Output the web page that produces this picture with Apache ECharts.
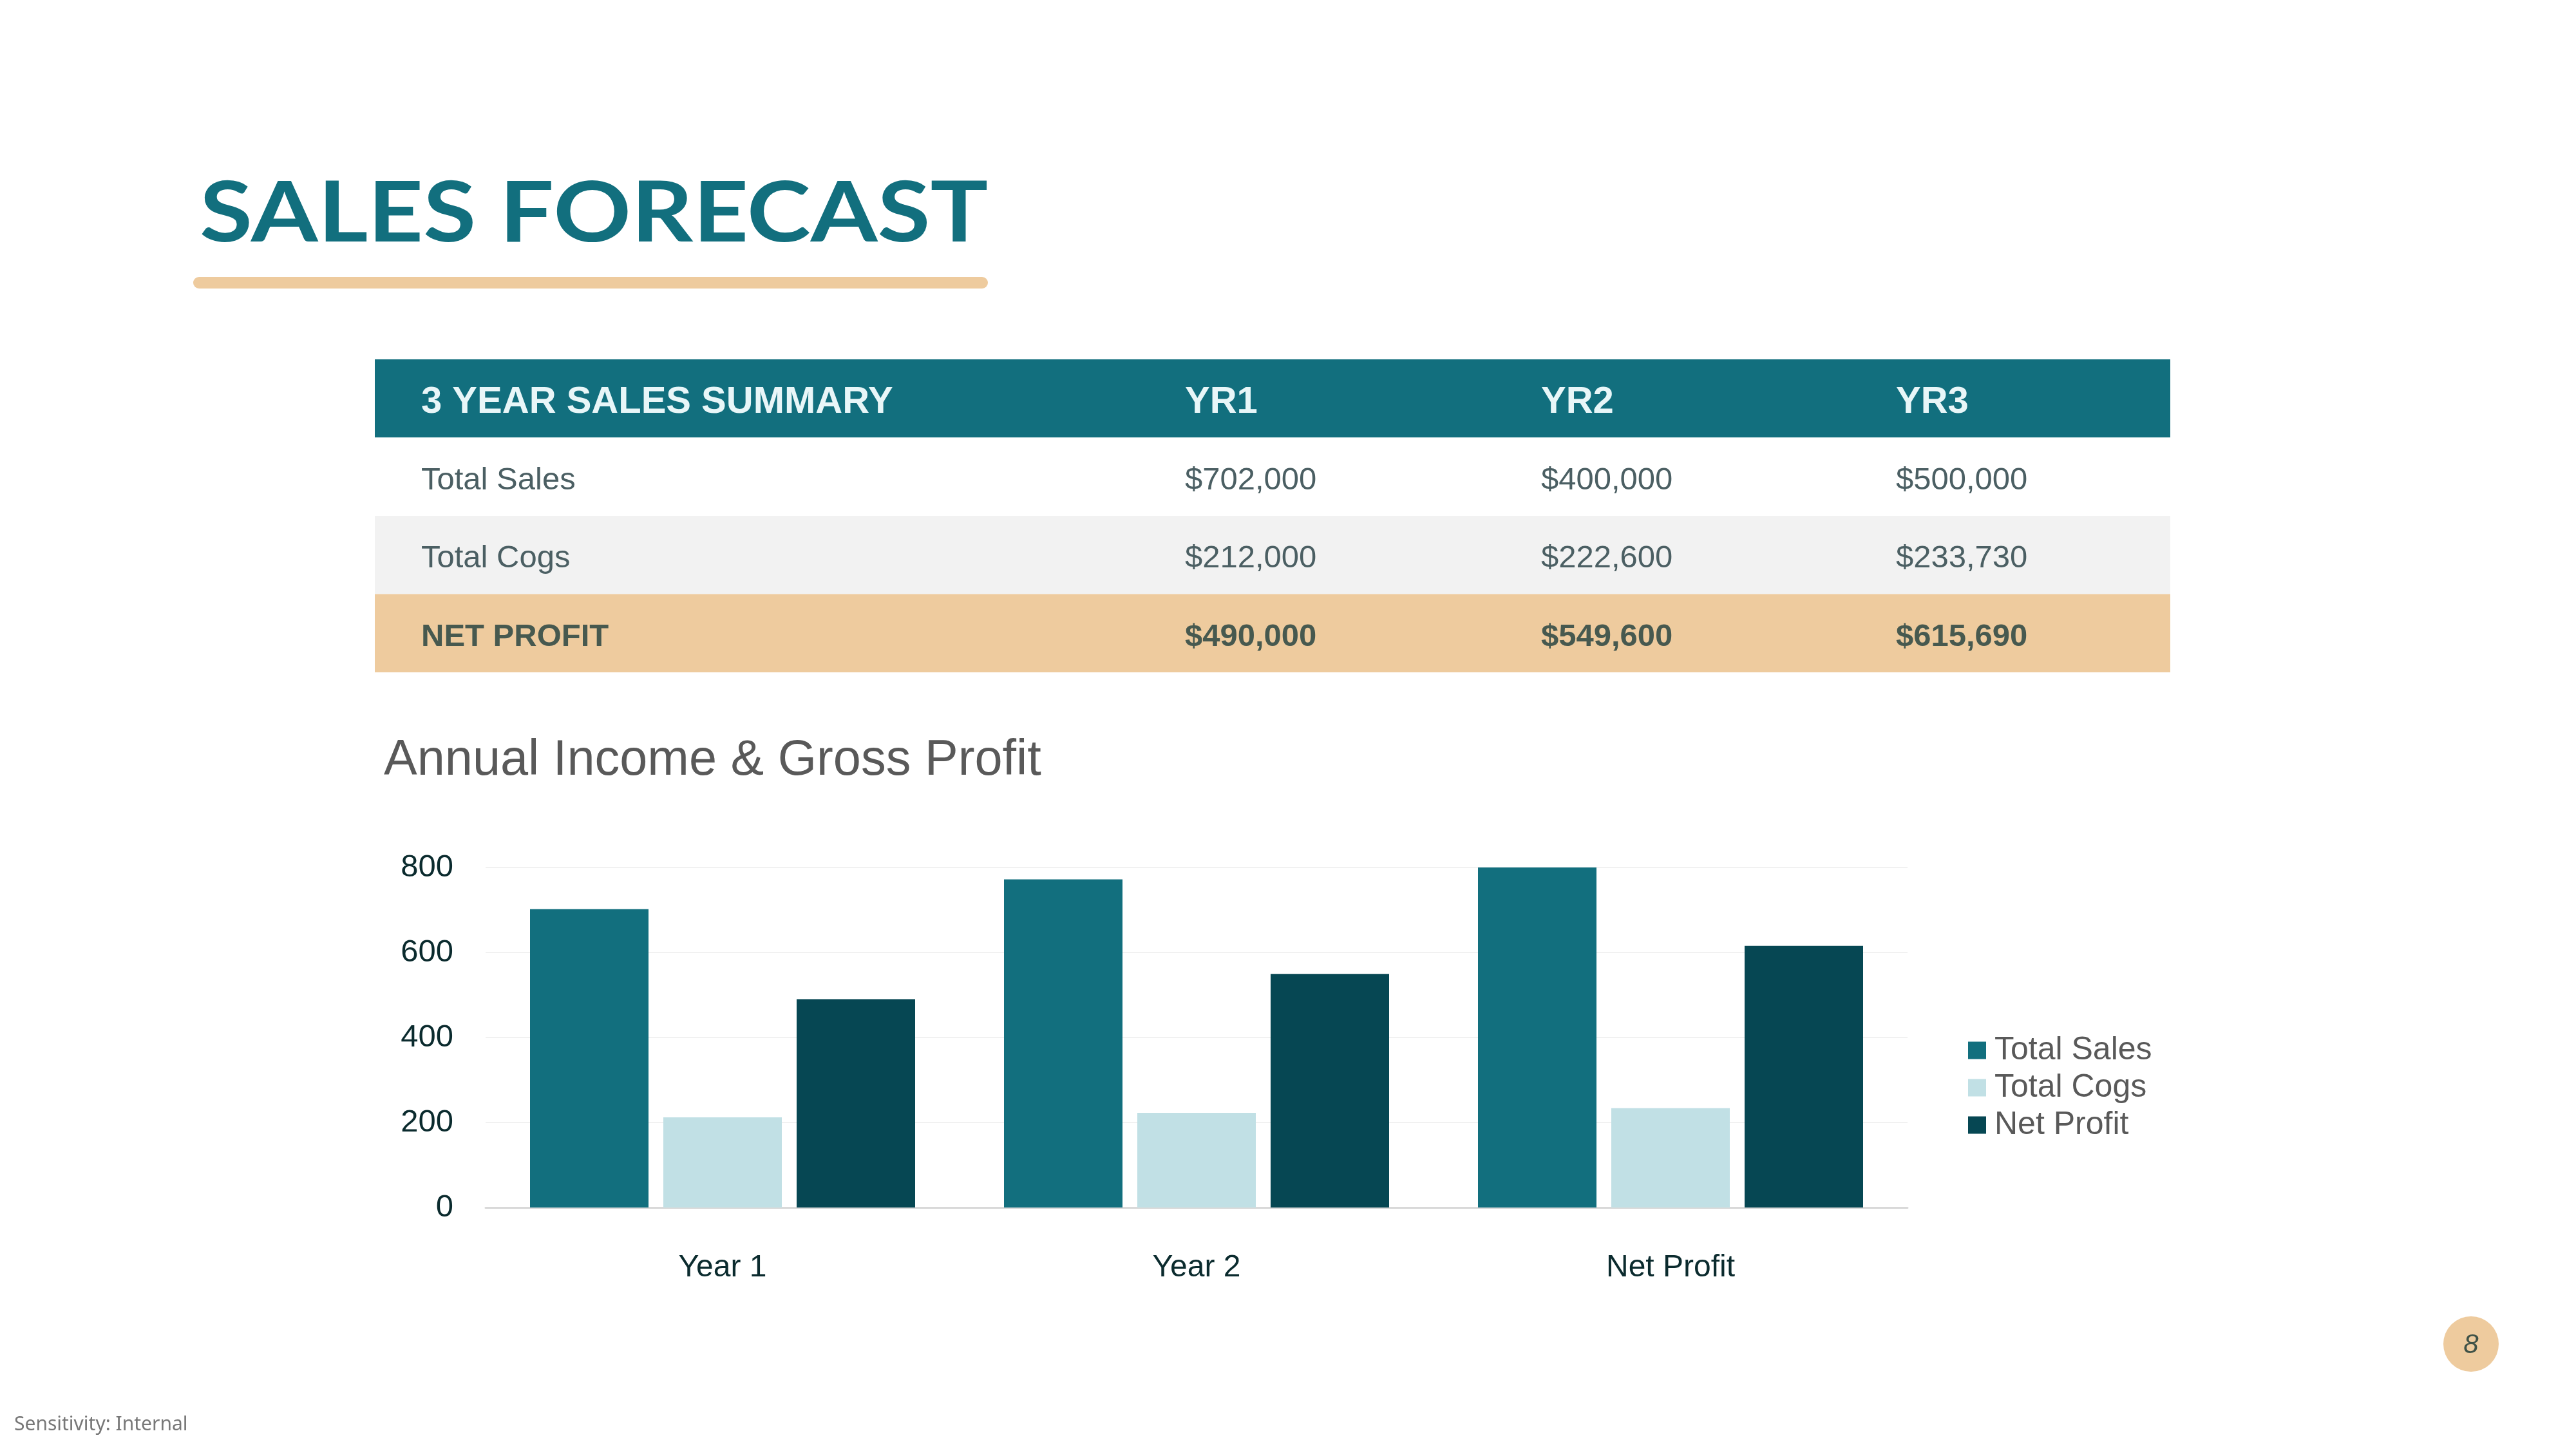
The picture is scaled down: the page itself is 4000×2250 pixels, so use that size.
<!DOCTYPE html>
<html lang="en">
    <head>
        <meta charset="utf-8">
        <title>Sales Forecast</title>
        <script src="https://cdn.jsdelivr.net/npm/echarts@6.0.0/dist/echarts.min.js"></script>
        <style>
            html, body { margin: 0; padding: 0; background: #ffffff; }
        </style>
    </head>
    <body>
        <div id="main" style="width: 4000px;height: 2250px;"></div>

        <script type="text/javascript">

            // summary table
            let tableHeader = ['3 YEAR SALES SUMMARY', 'YR1', 'YR2', 'YR3'];
            let rowLabels = ['Total Sales', 'Total Cogs', 'NET PROFIT'];
            let yr1Values = ['$702,000', '$212,000', '$490,000'];
            let yr2Values = ['$400,000', '$222,600', '$549,600'];
            let yr3Values = ['$500,000', '$233,730', '$615,690'];

            // chart data (thousands)
            let categories = ['Year 1', 'Year 2', 'Net Profit'];
            let totalSales = [702, 772, 800];
            let totalCogs = [212, 222.6, 233.7];
            let netProfit = [490, 549.6, 615.7];

            const teal = '#126F7E';
            const sand = '#EECB9E';
            const bodyText = '#4B5F63';

            let myChart = echarts.init(document.getElementById('main'));

            // table layout
            let tblLeft = 582, tblRight = 3370, tblTop = 558, rowH = 121.5;
            let colX = [654, 1840, 2393, 2944];
            let rowFills = ['#ffffff', '#F2F2F2', sand];

            let graphics = [];

            graphics.push({
                type: 'text',
                x: 310, y: 268, scaleX: 1.15,
                style: { text: 'SALES FORECAST', font: 'bold 130px Lato', fill: teal, verticalAlign: 'top' }
            });
            graphics.push({
                type: 'rect',
                shape: { x: 300, y: 430, width: 1234, height: 18, r: 9 },
                style: { fill: sand }
            });

            // header row
            graphics.push({
                type: 'rect',
                shape: { x: tblLeft, y: tblTop, width: tblRight - tblLeft, height: rowH },
                style: { fill: teal }
            });
            tableHeader.forEach((h, i) => {
                graphics.push({
                    type: 'text',
                    x: colX[i], y: tblTop + rowH / 2 + 6,
                    style: { text: h, font: 'bold 58px "Liberation Sans"', fill: '#E8F6F8', verticalAlign: 'middle' }
                });
            });

            // body rows
            rowLabels.forEach((label, r) => {
                let y0 = tblTop + rowH * (r + 1);
                let isTotal = r === rowLabels.length - 1;
                let font = (isTotal ? 'bold ' : '') + '49px "Liberation Sans"';
                let fill = isTotal ? '#47594F' : bodyText;
                graphics.push({
                    type: 'rect',
                    shape: { x: tblLeft, y: y0, width: tblRight - tblLeft, height: rowH },
                    style: { fill: rowFills[r] }
                });
                let cells = [label, yr1Values[r], yr2Values[r], yr3Values[r]];
                cells.forEach((c, i) => {
                    graphics.push({
                        type: 'text',
                        x: colX[i], y: y0 + rowH / 2 + 6,
                        style: { text: c, font: font, fill: fill, verticalAlign: 'middle' }
                    });
                });
            });

            // page number + footer
            graphics.push({
                type: 'circle',
                shape: { cx: 3837, cy: 2087, r: 43 },
                style: { fill: sand }
            });
            graphics.push({
                type: 'text',
                x: 3837, y: 2089,
                style: { text: '8', font: 'italic 42px "Liberation Sans"', fill: '#3F5247', align: 'center', verticalAlign: 'middle' }
            });
            graphics.push({
                type: 'text',
                x: 22, y: 2212,
                style: { text: 'Sensitivity: Internal', font: '30px "Noto Sans"', fill: '#777777', verticalAlign: 'middle' }
            });

            let options = {
                backgroundColor: '#ffffff',
                animation: false,
                title: {
                    text: 'Annual Income & Gross Profit',
                    left: 596, top: 1143, padding: 0,
                    textStyle: { fontFamily: 'Liberation Sans', fontSize: 77.5, fontWeight: 'normal', color: '#595959' }
                },
                legend: {
                    orient: 'vertical',
                    left: 3056, top: 1606, padding: 0,
                    itemWidth: 28, itemHeight: 27, itemGap: 8,
                    icon: 'rect',
                    textStyle: { fontFamily: 'Liberation Sans', fontSize: 50, color: '#595959', padding: [0, 0, 0, 8] },
                    data: ['Total Sales', 'Total Cogs', 'Net Profit']
                },
                grid: { left: 754, right: 1038, top: 1347, height: 528 },
                xAxis: {
                    type: 'category',
                    data: categories,
                    axisLine: { lineStyle: { color: '#D9D9D9', width: 3 } },
                    axisTick: { show: false },
                    axisLabel: { fontFamily: 'Liberation Sans', fontSize: 48, color: '#0B2B2E', margin: 70 }
                },
                yAxis: {
                    type: 'value',
                    min: 0, max: 800, interval: 200,
                    axisLine: { show: false },
                    axisTick: { show: false },
                    splitLine: { lineStyle: { color: '#F1F1F1', width: 2 } },
                    axisLabel: { fontFamily: 'Liberation Sans', fontSize: 49, color: '#0B2B2E', margin: 50 }
                },
                series: [
                    { name: 'Total Sales', type: 'bar', data: totalSales, itemStyle: { color: teal }, barWidth: '25%', barGap: '12.5%' },
                    { name: 'Total Cogs', type: 'bar', data: totalCogs, itemStyle: { color: '#C1E0E5' }, barWidth: '25%', barGap: '12.5%' },
                    { name: 'Net Profit', type: 'bar', data: netProfit, itemStyle: { color: '#064753' }, barWidth: '25%', barGap: '12.5%' }
                ],
                graphic: graphics
            };

            myChart.setOption(options);
        </script>
    </body>
</html>
